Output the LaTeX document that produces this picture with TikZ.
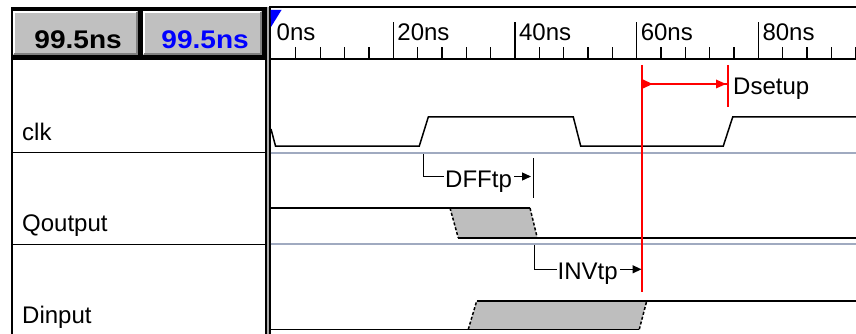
\documentclass[tikz,border=0pt]{standalone}
\usepackage{fontspec}
\setmainfont{Liberation Sans}
\usetikzlibrary{arrows.meta}
\definecolor{btngray}{RGB}{192,192,192}
\definecolor{btnshadow}{RGB}{128,128,128}
\definecolor{sepblue}{RGB}{160,170,192}
\definecolor{xgray}{RGB}{190,190,190}
\definecolor{cursorred}{RGB}{255,0,0}
\definecolor{valblue}{RGB}{0,0,255}
\definecolor{divgray}{RGB}{170,170,170}
\begin{document}
\begin{tikzpicture}[x=1pt,y=-1pt,
  lbl/.style={font=\fontsize{24}{26}\selectfont, inner sep=0pt, anchor=base west},
  btntxt/.style={font=\fontsize{25.5}{28}\selectfont\bfseries, inner sep=0pt, anchor=base east},
  wave/.style={line width=1.5pt, black, line join=miter},
  xedge/.style={line width=1.5pt, black, dash pattern=on 3pt off 2pt},
  tickmark/.style={line width=1.3pt, black},
  sepline/.style={line width=1.5pt, black},
  rowsep/.style={line width=2pt, sepblue},
  annot/.style={line width=1.3pt, black},
  tipA/.style={-{Triangle[length=9pt,width=8pt]}},
]
\useasboundingbox (0,0) rectangle (856,334);
\fill[white] (0,0) rectangle (856,334);

% ---- top-left button block ----
\fill[black] (11,7) rectangle (267,60);
\fill[btngray] (13,11) rectangle (138,55);
\draw[white, line width=2pt] (14,54) -- (14,12) -- (137,12);
\draw[btnshadow, line width=2pt] (14,54) -- (137,54) -- (137,12);
\fill[btngray] (143,11) rectangle (262,55);
\draw[white, line width=2pt] (144,54) -- (144,12) -- (261,12);
\draw[btnshadow, line width=2pt] (144,54) -- (261,54) -- (261,12);
\node[btntxt] (val1) at (122,49) {\scalebox{1.1}[1]{99.5ns}};
\node[btntxt, text=valblue] (val2) at (249,49) {\scalebox{1.1}[1]{99.5ns}};

% ---- signal name panel ----
\draw[sepline] (11.75,60) -- (11.75,334);
\draw[sepline] (11,152.7) -- (265,152.7);
\draw[sepline] (11,244.3) -- (265,244.3);
\node[lbl] (nclk) at (22,140) {clk};
\node[lbl] (nq) at (22,231) {Qoutput};
\node[lbl] (nd) at (22,323) {Dinput};

% ---- divider ----
\fill[divgray] (265,7) rectangle (270.5,334);
\draw[black, line width=1.5pt] (265.8,7) -- (265.8,334);
\draw[black, line width=2pt] (269.5,7) -- (269.5,334);

% ---- ruler ----
\draw[line width=2pt] (269,7.5) -- (856,7.5);
\draw[line width=2pt] (269,59) -- (856,59);
\foreach \t in {4,8,...,96} {
  \pgfmathsetmacro\xx{271.5+6.085*\t}
  \draw[tickmark] (\xx,47.5) -- (\xx,59);
}
\foreach \t in {20,40,60,80} {
  \pgfmathsetmacro\xx{271.5+6.085*\t}
  \draw[tickmark] (\xx,22.5) -- (\xx,59);
  \node[lbl] (r\t) at (\xx+4,40.5) {\t ns};
}
\node[lbl] (r0) at (276.5,40.5) {0ns};
\fill[valblue] (270.5,10) -- (281.5,10) -- (271,27) -- cycle;

% ---- row separators ----
\draw[rowsep] (270.5,152.7) -- (856,152.7);
\draw[rowsep] (270.5,244.3) -- (856,244.3);

% ---- clk ----
\draw[wave] (271,129) -- (275.5,146) -- (419.3,146) -- (428.3,117) -- (573.3,117)
  -- (580.7,146) -- (723.3,146) -- (732.7,117) -- (857,117);

% ---- Qoutput ----
\fill[xgray] (450,208) -- (530,208) -- (537.3,238) -- (458.3,238) -- cycle;
\draw[wave] (271,208) -- (530,208);
\draw[wave] (458.3,238) -- (857,238);
\draw[xedge] (450,208) -- (458.3,238);
\draw[xedge] (530,208) -- (537.3,238);

% ---- Dinput ----
\fill[xgray] (468.3,329.3) -- (639.3,329.3) -- (646.7,301) -- (476.7,301) -- cycle;
\draw[wave] (271,329.3) -- (639.3,329.3);
\draw[wave] (476.7,301) -- (857,301);
\draw[xedge] (468.3,329.3) -- (476.7,301);
\draw[xedge] (639.3,329.3) -- (646.7,301);

% ---- cursor and Dsetup ----
\coordinate (curtop) at (642.3,65);
\coordinate (curbot) at (642.3,291.7);
\draw[cursorred, line width=2pt] (curtop) -- (curbot);
\coordinate (ds0) at (642.3,84);
\coordinate (ds1) at (727.7,84);
\draw[cursorred, line width=1.3pt] (ds0) -- (ds1);
\fill[cursorred] (643,79.5) -- (652.5,84) -- (643,88.5) -- cycle;
\fill[cursorred] (716,79.5) -- (726,84) -- (716,88.5) -- cycle;
\draw[cursorred, line width=2pt] (727.7,65) -- (727.7,106.7);
\node[lbl] (dsetup) at (733,95) {Dsetup};

% ---- DFFtp ----
\coordinate (clkrise) at (423.3,154);
\coordinate (dffin) at (444,176.7);
\node[lbl] (dfftp) at (445,187) {DFFtp};
\draw[annot] (clkrise) |- (dffin);
\coordinate (dffout) at (514,176.5);
\coordinate (dfftip) at (531,176.5);
\draw[annot, tipA] (dffout) -- (dfftip);
\coordinate (qbartop) at (533.7,158.3);
\coordinate (qbarbot) at (533.7,198.3);
\draw[line width=1.5pt] (qbartop) -- (qbarbot);

% ---- INVtp ----
\coordinate (qfall) at (534.3,245);
\coordinate (invin) at (556.5,269.3);
\node[lbl] (invtp) at (557.5,279.5) {INVtp};
\draw[annot] (qfall) |- (invin);
\coordinate (invout) at (620,269.3);
\coordinate (invtip) at (641.5,269.3);
\draw[annot, tipA] (invout) -- (invtip);
\end{tikzpicture}
\end{document}
